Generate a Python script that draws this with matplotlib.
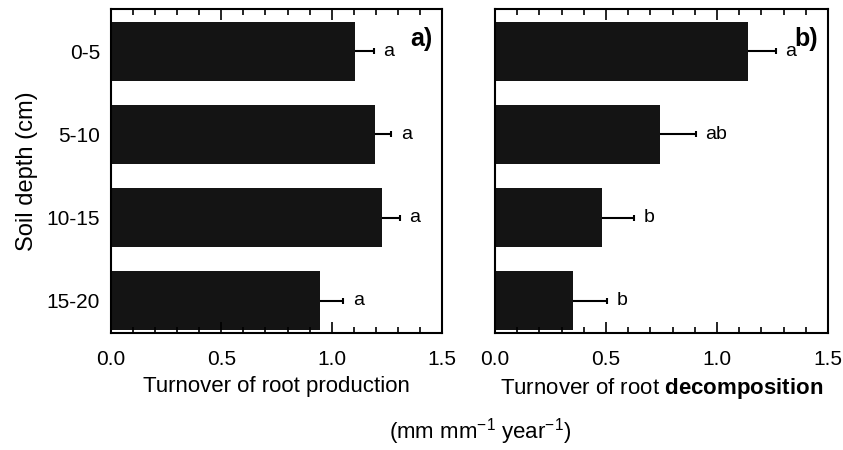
"""
Root turnover by soil depth, two panels
"""
import matplotlib
matplotlib.use('Agg')
import matplotlib.pyplot as plt
from matplotlib.ticker import MultipleLocator, FormatStrFormatter

plt.rcParams['font.family'] = ['Liberation Sans', 'DejaVu Sans']
plt.rcParams['mathtext.fontset'] = 'custom'
plt.rcParams['mathtext.rm'] = 'Liberation Sans'
plt.rcParams['mathtext.bf'] = 'Liberation Sans:bold'

depths = ['0-5', '5-10', '10-15', '15-20']

production = [1.105, 1.196, 1.226, 0.947]
production_err = [0.085, 0.073, 0.083, 0.105]
production_letters = ['a', 'a', 'a', 'a']

decomposition = [1.141, 0.743, 0.484, 0.353]
decomposition_err = [0.123, 0.161, 0.140, 0.150]
decomposition_letters = ['a', 'ab', 'b', 'b']

bar_color = '#141414'

fig = plt.figure(figsize=(8.43, 4.5), dpi=100)
ax1 = fig.add_axes([0.1317, 0.26, 0.3926, 0.72])
ax2 = fig.add_axes([0.5872, 0.26, 0.395, 0.72])


def draw_panel(ax, values, errs, letters, panel_label, xlabel):
    pos = list(range(len(depths)))
    ax.barh(pos, values, height=0.71, color=bar_color, linewidth=0)
    # one-sided error bars, cap only at the outer end
    ends = [v + e for v, e in zip(values, errs)]
    ax.hlines(pos, values, ends, color='black', linewidth=1.5)
    ax.plot(ends, pos, linestyle='none', marker='|', markersize=5,
            markeredgewidth=1.5, color='black')
    for p, x, lab in zip(pos, ends, letters):
        ax.annotate(lab, (x, p), xytext=(7, 0), textcoords='offset points',
                    ha='left', va='center', fontsize=14)
    ax.set_xlim(0, 1.5)
    ax.set_ylim(3.39, -0.51)
    ax.xaxis.set_major_locator(MultipleLocator(0.5))
    ax.xaxis.set_minor_locator(MultipleLocator(0.1))
    ax.xaxis.set_major_formatter(FormatStrFormatter('%.1f'))
    ax.tick_params(axis='x', which='both', direction='in', top=True, bottom=True,
                   labelsize=15, pad=12, width=1.2)
    ax.tick_params(axis='x', which='major', length=8)
    ax.tick_params(axis='x', which='minor', length=4)
    ax.tick_params(axis='y', length=0, labelsize=15, pad=8)
    ax.set_yticks(pos)
    for sp in ax.spines.values():
        sp.set_linewidth(1.5)
    ax.set_xlabel(xlabel, fontsize=16, labelpad=5)
    ax.text(0.97, 0.945, panel_label, transform=ax.transAxes, ha='right', va='top',
            fontsize=18, fontweight='bold')


draw_panel(ax1, production, production_err, production_letters, 'a)',
           'Turnover of root production')
ax1.set_yticklabels(depths)
ax1.set_ylabel('Soil depth (cm)', fontsize=17, labelpad=6)

draw_panel(ax2, decomposition, decomposition_err, decomposition_letters, 'b)',
           r'Turnover of root $\mathbf{decomposition}$')
ax2.set_yticklabels([])

fig.text(0.57, 0.04, r'(mm mm$^{-1}$ year$^{-1}$)', ha='center', va='center', fontsize=16)

fig.savefig('out.png', dpi=100)
